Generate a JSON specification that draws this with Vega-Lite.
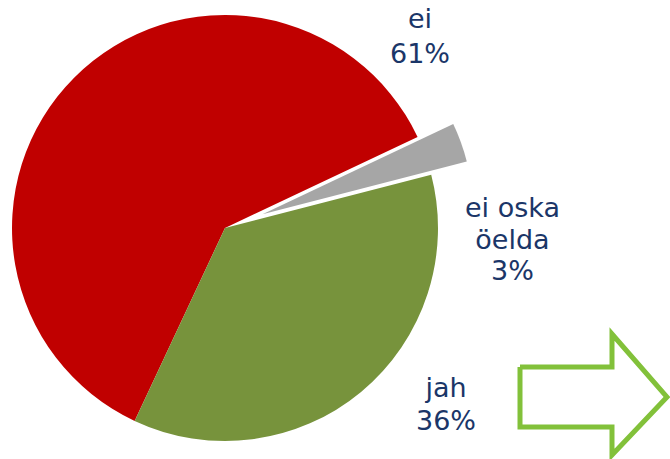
{
  "$schema": "https://vega.github.io/schema/vega-lite/v6.json",
  "width": 670,
  "height": 459,
  "autosize": {"type": "none"},
  "padding": 0,
  "background": "white",
  "config": {"view": {"stroke": null}},
  "datasets": {
    "pie": [
      {"answer": "ei", "pct": 61, "ord": 1, "label": "ei\n61%"},
      {"answer": "ei oska öelda", "pct": 3, "ord": 2, "label": "ei oska\nöelda\n3%"},
      {"answer": "jah", "pct": 36, "ord": 3, "label": "jah\n36%"}
    ],
    "arrow": [
      {"px": 520, "py": 367, "i": 1},
      {"px": 612, "py": 367, "i": 2},
      {"px": 612, "py": 334, "i": 3},
      {"px": 667, "py": 397, "i": 4},
      {"px": 612, "py": 455, "i": 5},
      {"px": 612, "py": 427, "i": 6},
      {"px": 520, "py": 427, "i": 7},
      {"px": 520, "py": 367, "i": 8}
    ]
  },
  "layer": [
    {
      "data": {"name": "pie"},
      "transform": [
        {"stack": "pct", "groupby": [], "sort": [{"field": "ord"}], "as": ["s0", "s1"]},
        {"filter": "datum.answer !== 'ei oska öelda'"}
      ],
      "mark": {"type": "arc", "radius": 213, "xOffset": -110, "yOffset": -1.5},
      "encoding": {
        "theta": {"field": "s0", "type": "quantitative", "scale": {"domain": [0, 100], "range": [3.5797, 9.8629]}},
        "theta2": {"field": "s1"},
        "color": {"field": "answer", "type": "nominal", "legend": null,
          "scale": {"domain": ["ei", "ei oska öelda", "jah"], "range": ["#C00000", "#A6A6A6", "#77933C"]}}
      }
    },
    {
      "data": {"name": "pie"},
      "transform": [
        {"stack": "pct", "groupby": [], "sort": [{"field": "ord"}], "as": ["s0", "s1"]},
        {"filter": "datum.answer === 'ei oska öelda'"}
      ],
      "mark": {"type": "arc", "radius": 211, "xOffset": -72.5, "yOffset": -15.3},
      "encoding": {
        "theta": {"field": "s0", "type": "quantitative"},
        "theta2": {"field": "s1"},
        "color": {"field": "answer", "type": "nominal", "legend": null}
      }
    },
    {
      "data": {"name": "pie"},
      "transform": [{"filter": "datum.answer === 'ei'"}],
      "mark": {"type": "text", "font": "DejaVu Sans", "fontSize": 27, "lineHeight": 35, "lineBreak": "\n", "color": "#1B3668", "align": "center", "baseline": "alphabetic", "xOffset": 85, "yOffset": -201.5},
      "encoding": {"text": {"field": "label"}}
    },
    {
      "data": {"name": "pie"},
      "transform": [{"filter": "datum.answer === 'ei oska öelda'"}],
      "mark": {"type": "text", "font": "DejaVu Sans", "fontSize": 27, "lineHeight": 31.5, "lineBreak": "\n", "color": "#1B3668", "align": "center", "baseline": "alphabetic", "xOffset": 177.5, "yOffset": -12.5},
      "encoding": {"text": {"field": "label"}}
    },
    {
      "data": {"name": "pie"},
      "transform": [{"filter": "datum.answer === 'jah'"}],
      "mark": {"type": "text", "font": "DejaVu Sans", "fontSize": 27, "lineHeight": 33, "lineBreak": "\n", "color": "#1B3668", "align": "center", "baseline": "alphabetic", "xOffset": 111, "yOffset": 167.5},
      "encoding": {"text": {"field": "label"}}
    },
    {
      "data": {"name": "arrow"},
      "mark": {"type": "line", "stroke": "#82C13A", "strokeWidth": 5, "strokeJoin": "miter", "strokeMiterLimit": 10, "clip": false},
      "encoding": {
        "x": {"field": "px", "type": "quantitative", "axis": null, "scale": {"domain": [0, 670], "zero": false, "nice": false}},
        "y": {"field": "py", "type": "quantitative", "axis": null, "scale": {"domain": [0, 459], "reverse": true, "zero": false, "nice": false}},
        "order": {"field": "i", "type": "quantitative"}
      }
    }
  ]
}
